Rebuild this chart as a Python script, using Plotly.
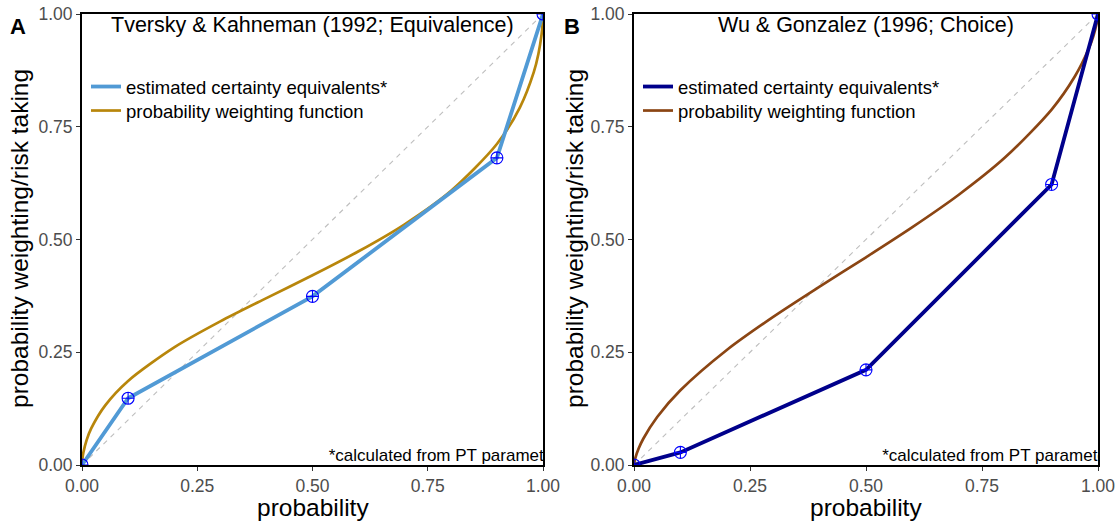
import plotly.graph_objects as go

# ---- data ----
ce_prob = [0.0, 0.1, 0.5, 0.9, 1.0]
ce_tk = [0.0, 0.148, 0.374, 0.681, 1.0]
ce_wg = [0.0, 0.028, 0.211, 0.622, 1.0]

pwf_prob = [0.0, 0.001, 0.003, 0.01, 0.02, 0.05, 0.1, 0.2, 0.3, 0.4, 0.5,
            0.6, 0.7, 0.8, 0.9, 0.95, 0.98, 0.99, 0.997, 0.999, 1.0]
pwf_tk = [0.0, 0.0145, 0.0277, 0.0553, 0.0811, 0.1317, 0.1863, 0.2608, 0.3184,
          0.3700, 0.4206, 0.4739, 0.5338, 0.6074, 0.7117, 0.7931, 0.8711,
          0.9115, 0.9554, 0.9766, 1.0]
pwf_wg = [0.0, 0.0073, 0.0159, 0.0364, 0.0582, 0.1065, 0.1656, 0.2550, 0.3284,
          0.3954, 0.4606, 0.5274, 0.5992, 0.6821, 0.7881, 0.8613, 0.9228,
          0.9512, 0.9785, 0.9899, 1.0]

diag = [0.0, 1.0]
tick_vals = [0.0, 0.25, 0.5, 0.75, 1.0]
tick_text = ["0.00", "0.25", "0.50", "0.75", "1.00"]

titles = ["Tversky & Kahneman (1992; Equivalence)", "Wu & Gonzalez (1996; Choice)"]
panel_labels = ["A", "B"]
footnote = "*calculated from PT parameters"
legend_names = ["estimated certainty equivalents*", "probability weighting function"]

ce_colors = ["#519AD5", "#00008B"]
pwf_colors = ["#B8860B", "#8B4513"]

FONT = "Liberation Sans, Arial, sans-serif"
W, H = 1115, 523

fig = go.Figure()

panels = [
    dict(ce=ce_tk, pwf=pwf_tk, xa="x", ya="y", leg_ce="legend", leg_pwf="legend2"),
    dict(ce=ce_wg, pwf=pwf_wg, xa="x2", ya="y2", leg_ce="legend3", leg_pwf="legend4"),
]

for i, p in enumerate(panels):
    fig.add_trace(go.Scatter(x=diag, y=diag, mode="lines",
                             line=dict(color="#BEBEBE", width=1.1, dash="5px,5px"),
                             xaxis=p["xa"], yaxis=p["ya"], showlegend=False,
                             hoverinfo="skip"))
    fig.add_trace(go.Scatter(x=pwf_prob, y=p["pwf"], mode="lines",
                             line=dict(color=pwf_colors[i], width=2.7, shape="spline",
                                       smoothing=0.8),
                             name=legend_names[1], legend=p["leg_pwf"],
                             xaxis=p["xa"], yaxis=p["ya"]))
    fig.add_trace(go.Scatter(x=ce_prob, y=p["ce"], mode="lines",
                             line=dict(color=ce_colors[i], width=3.8),
                             name=legend_names[0], legend=p["leg_ce"],
                             xaxis=p["xa"], yaxis=p["ya"]))
    fig.add_trace(go.Scatter(x=ce_prob, y=p["ce"], mode="markers",
                             marker=dict(symbol="circle-cross-open", size=12,
                                         color="#0000FF", line=dict(width=1.1)),
                             showlegend=False, xaxis=p["xa"], yaxis=p["ya"]))
    fig.add_trace(go.Scatter(x=[0.535], y=[0.018], mode="text", text=[footnote],
                             textposition="middle right",
                             textfont=dict(family=FONT, size=17, color="black"),
                             showlegend=False, xaxis=p["xa"], yaxis=p["ya"],
                             cliponaxis=True, hoverinfo="skip"))

px_x = lambda v: v / W
px_y = lambda v: 1 - v / H

axis_common = dict(range=[0, 1], tickvals=tick_vals, ticktext=tick_text,
                   showgrid=False, zeroline=False, showline=True, mirror=True,
                   linecolor="black", linewidth=2, ticks="outside", ticklen=4,
                   tickwidth=1, tickcolor="#333333", automargin=False,
                   ticklabeloverflow="allow",
                   tickfont=dict(family=FONT, size=17.5, color="#4D4D4D"),
                   fixedrange=True)

ydom = [px_y(465), px_y(14)]
leg_common = dict(xanchor="left", yanchor="middle", bgcolor="rgba(0,0,0,0)",
                  font=dict(family=FONT, size=18.5, color="black"),
                  tracegroupgap=0, itemwidth=30)
fig.update_layout(
    template="none",
    width=W, height=H,
    margin=dict(l=0, r=0, t=0, b=0, autoexpand=False),
    paper_bgcolor="white", plot_bgcolor="white",
    font=dict(family=FONT, color="black"),
    xaxis=dict(domain=[px_x(82), px_x(543)], anchor="y", **axis_common),
    yaxis=dict(domain=ydom, anchor="x", **axis_common),
    xaxis2=dict(domain=[px_x(634), px_x(1098)], anchor="y2", **axis_common),
    yaxis2=dict(domain=ydom, anchor="x2", **axis_common),
    legend=dict(x=px_x(86), y=px_y(87), **leg_common),
    legend2=dict(x=px_x(86), y=px_y(111), **leg_common),
    legend3=dict(x=px_x(638), y=px_y(87), **leg_common),
    legend4=dict(x=px_x(638), y=px_y(111), **leg_common),
    showlegend=True,
)

annots = []
centers_x = [(82 + 543) / 2, (634 + 1098) / 2]
ytitle_x = [20, 575]
plabel_x = [18, 572]
for i in range(2):
    annots.append(dict(text=titles[i], x=px_x(centers_x[i]), y=px_y(25),
                       xanchor="center", yanchor="middle",
                       xref="paper", yref="paper", showarrow=False,
                       font=dict(family=FONT, size=21.5, color="black")))
    annots.append(dict(text="probability", x=px_x(centers_x[i]), y=px_y(507),
                       xanchor="center", yanchor="middle",
                       xref="paper", yref="paper", showarrow=False,
                       font=dict(family=FONT, size=24.5, color="black")))
    annots.append(dict(text="probability weighting/risk taking", x=px_x(ytitle_x[i]),
                       y=px_y(239), xanchor="center", yanchor="middle",
                       xref="paper", yref="paper", showarrow=False,
                       textangle=-90, font=dict(family=FONT, size=24.5, color="black")))
    annots.append(dict(text="<b>" + panel_labels[i] + "</b>", x=px_x(plabel_x[i]),
                       y=px_y(26), xanchor="center", yanchor="middle",
                       xref="paper", yref="paper", showarrow=False,
                       font=dict(family=FONT, size=22, color="black")))
fig.update_layout(annotations=annots)

fig.write_html("out.html")
